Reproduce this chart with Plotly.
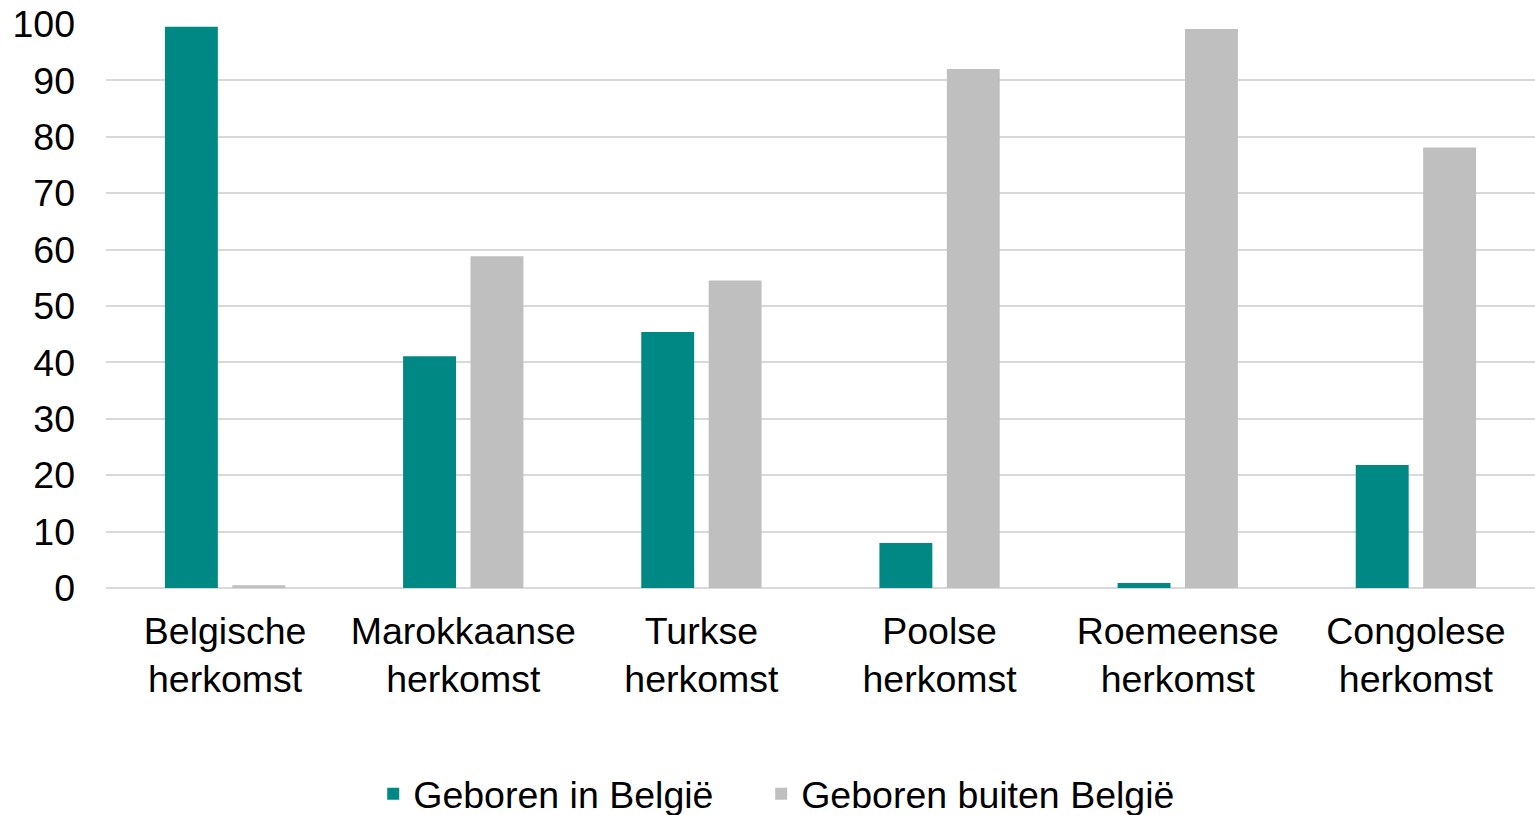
import plotly.graph_objects as go

categories = ["Belgische<br>herkomst", "Marokkaanse<br>herkomst", "Turkse<br>herkomst",
              "Poolse<br>herkomst", "Roemeense<br>herkomst", "Congolese<br>herkomst"]
geboren_in = [99.5, 41.1, 45.4, 8.0, 0.9, 21.8]
geboren_buiten = [0.5, 58.8, 54.5, 92.0, 99.1, 78.1]

fig = go.Figure()
fig.add_trace(go.Bar(x=categories, y=geboren_in, name="Geboren in België",
                     marker=dict(color="#008885", line=dict(width=0)), legend="legend"))
fig.add_trace(go.Bar(x=categories, y=geboren_buiten, name="Geboren buiten België",
                     marker=dict(color="#BFBFBF", line=dict(width=0)), legend="legend2"))

leg = dict(orientation="h", xanchor="left", y=-0.365, yanchor="middle",
           font=dict(size=37.5), itemsizing="constant")

fig.update_layout(
    width=1535, height=815,
    paper_bgcolor="white", plot_bgcolor="white",
    font=dict(family="Liberation Sans, Arial", size=37.5, color="black"),
    barmode="group", bargap=0.434, bargroupgap=0.215,
    margin=dict(l=106, r=0, t=24, b=227, autoexpand=False),
    showlegend=True,
    legend=dict(leg, x=0.187),
    legend2=dict(leg, x=0.4585),
)
fig.update_yaxes(range=[0, 100], dtick=10, showgrid=True, gridcolor="#D9D9D9", gridwidth=2,
                 zeroline=True, zerolinecolor="#D9D9D9", zerolinewidth=2,
                 showline=False, ticks="", ticklabelstandoff=30, fixedrange=True)
fig.update_xaxes(showgrid=False, showline=False, ticks="", ticklabelstandoff=17, fixedrange=True)

fig.write_html("out.html", config={"displayModeBar": False},
               post_script="document.body.style.margin='0';document.body.style.overflow='hidden';")
